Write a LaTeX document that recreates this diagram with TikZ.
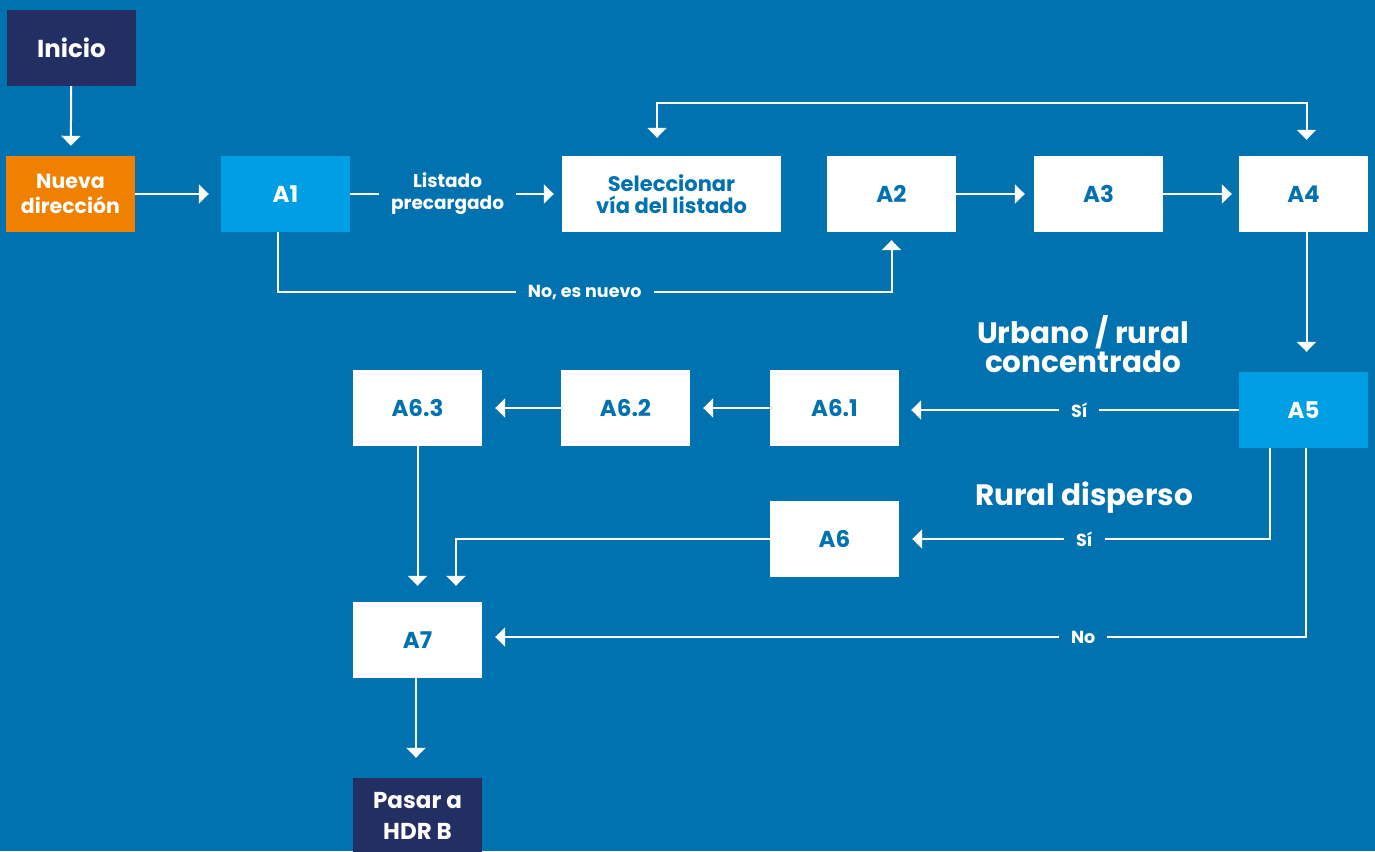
\documentclass[tikz,border=0pt]{standalone}
\usepackage{fontspec}
\setmainfont{Poppins}
\usetikzlibrary{arrows.meta}
\definecolor{bg}{RGB}{0,114,176}
\definecolor{navy}{RGB}{35,47,98}
\definecolor{orng}{RGB}{240,128,0}
\definecolor{lblue}{RGB}{0,159,227}
\begin{document}
\begin{tikzpicture}[x=1pt,y=-1pt,
  box/.style={minimum width=129pt, minimum height=76pt, inner sep=0pt, align=center,
    font=\fontsize{23}{25}\selectfont\bfseries, text=bg, fill=white},
  lbox/.style={box, fill=lblue, text=white},
  nbox/.style={box, fill=navy, text=white},
  arr/.style={draw=white, line width=2pt, -{Triangle[width=19pt,length=10pt]}, shorten >=12pt},
  lbl/.style={fill=bg, text=white, font=\fontsize{17.5}{20}\selectfont\bfseries,
    inner xsep=12pt, inner ysep=2pt, align=center},
  big/.style={text=white, font=\fontsize{29.5}{29}\selectfont\bfseries, align=center, inner sep=0pt}
]
\fill[bg] (0,0) rectangle (1375,851);
\useasboundingbox (0,0) rectangle (1375,851);

\node[nbox, font=\fontsize{24.5}{26}\selectfont\bfseries] (ini) at (71.5,48) {Inicio};
\node[box, fill=orng, text=white, font=\fontsize{20.5}{25}\selectfont\bfseries] (nue) at (70.5,194) {Nueva\\dirección};
\node[lbox] (a1) at (285.5,194) {A1};
\node[box, minimum width=219pt, font=\fontsize{21}{21.5}\selectfont\bfseries] (sel) at (671.5,194) {Seleccionar\\vía del listado};
\node[box] (a2) at (891.5,194) {A2};
\node[box] (a3) at (1098.5,194) {A3};
\node[box] (a4) at (1303.5,194) {A4};
\node[lbox] (a5) at (1303.5,410) {A5};
\node[box] (a61) at (834.5,408) {A6.1};
\node[box] (a62) at (625.5,408) {A6.2};
\node[box] (a63) at (417.5,408) {A6.3};
\node[box] (a6) at (834.5,539) {A6};
\node[box] (a7) at (417.5,640) {A7};
\node[nbox, font=\fontsize{23}{31}\selectfont\bfseries] (hdr) at (417.5,816) {Pasar a\\HDR B};

\coordinate (t1) at (657,103);

\node[big] (urb) at (1083,344) {Urbano / rural\\concentrado};
\node[big] (rur) at (1084,498) {Rural disperso};

\draw[arr, shorten >=10pt] (ini) -- (nue);
\draw[arr] (nue) -- (a1);
\draw[arr, shorten >=8pt] (a1) -- node[lbl, font=\fontsize{18.5}{22}\selectfont\bfseries, pos=0.46] {Listado\\precargado} (sel);
\draw[arr, shorten >=8pt] ([xshift=-7.5pt]a1.south) -- ++(0,60) -| node[lbl, pos=0.25] {No, es nuevo} (a2.south);
\draw[white, line width=2pt, {Triangle[width=19pt,length=10pt]}-{Triangle[width=19pt,length=10pt]},
  shorten <=18pt, shorten >=16pt] (sel.north -| t1) -- (t1) -| ([xshift=3pt]a4.north);
\draw[arr, shorten >=9pt] (a2) -- (a3);
\draw[arr, shorten >=7pt] (a3) -- (a4);
\draw[arr, shorten >=20pt] ([xshift=3pt]a4.south) -- ([xshift=3pt]a5.north);
\draw[arr] (a5.west) -- node[lbl, pos=0.47] {Sí} (a5.west -| a61.east);
\draw[arr, shorten >=13pt] (a61) -- (a62);
\draw[arr, shorten >=13pt] (a62) -- (a63);
\draw[arr, shorten >=13pt] ([xshift=-34pt]a5.south) |- node[lbl, pos=0.75] {Sí} (a6.east);
\draw[arr, shorten >=13pt] ([xshift=2pt]a5.south) |- node[lbl, pos=0.635] {No} ([yshift=3pt]a7.east);
\draw[arr, shorten >=16pt] (a6.west) -| ([xshift=38.5pt]a7.north);
\draw[arr, shorten >=16pt] (a63) -- (a7);
\draw[arr, shorten >=20pt] ([xshift=-1.5pt]a7.south) -- ([xshift=-1.5pt]hdr.north);
\end{tikzpicture}
\end{document}
